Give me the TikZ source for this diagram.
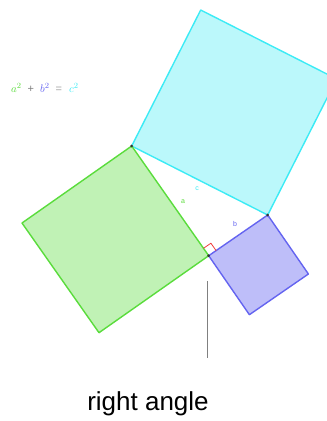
\documentclass[tikz,border=0pt]{standalone}
\usepackage{fontspec}
\setmainfont{Liberation Sans}
\usetikzlibrary{positioning,calc}
\definecolor{sqgreen}{RGB}{90,220,60}
\definecolor{sqblue}{RGB}{100,100,240}
\definecolor{sqcyan}{RGB}{60,235,245}
\definecolor{markred}{RGB}{240,60,60}
\tikzset{
  sidelabel/.style={font=\fontsize{7}{7}\selectfont,inner sep=0pt},
  vertex/.style={circle,fill=black!80,inner sep=0pt,minimum size=3pt}
}
\begin{document}
\begin{tikzpicture}[x=1pt,y=-1pt,line join=round]
\useasboundingbox (0,0) rectangle (327,421);
\clip (0,0) rectangle (327,421);
% corners of the triangle
\coordinate (A) at (131.7,146);
\coordinate (C) at (208.7,255.7);
\coordinate (B) at (267.7,215);
% outer corners of the squares
\coordinate (g1) at (99,332.7);   \coordinate (g2) at (22,223);
\coordinate (b1) at (308.4,274);  \coordinate (b2) at (249.4,314.7);
\coordinate (c1) at (336.7,79);   \coordinate (c2) at (200.7,10);
\filldraw[draw=sqcyan,fill=sqcyan!35,line width=1.4pt] (A) -- (B) -- (c1) -- (c2) -- cycle;
\filldraw[draw=sqgreen,fill=sqgreen!38,line width=1.4pt] (A) -- (C) -- (g1) -- (g2) -- cycle;
\filldraw[draw=sqblue,fill=sqblue!42,line width=1.4pt] (C) -- (B) -- (b1) -- (b2) -- cycle;
% right angle mark
\draw[markred,line width=0.8pt] ($(C)+(-5.2,-7.4)$) -- ($(C)+(2.2,-12.5)$) -- ($(C)+(7.4,-5.1)$);
\node[vertex] (pA) at (A) {};
\node[vertex] (pB) at (B) {};
\node[vertex] (pC) at (C) {};
% side names
\node[sidelabel,text=sqgreen] (la) at (183,202) {a};
\node[sidelabel,text=sqcyan] (lc) at (197,189) {c};
\node[sidelabel,text=sqblue] (lb) at (235,224) {b};
% formula
\node[font=\fontsize{11}{11}\selectfont,anchor=west,inner sep=0pt] (formula) at (11,88)
  {\textcolor{sqgreen}{$a^2$}\hspace{6pt}\textcolor{gray}{+}\hspace{6pt}\textcolor{sqblue}{$b^2$}\hspace{6pt}\textcolor{gray!70}{=}\hspace{7pt}\textcolor{sqcyan}{$c^2$}};
% caption with leader
\coordinate (tip) at (207,281);
\node[font=\fontsize{26}{26}\selectfont,inner sep=0pt] (caption) at (148,404) {right angle};
\draw[gray,line width=0.8pt] (tip) -- (207,358);
\end{tikzpicture}
\end{document}
